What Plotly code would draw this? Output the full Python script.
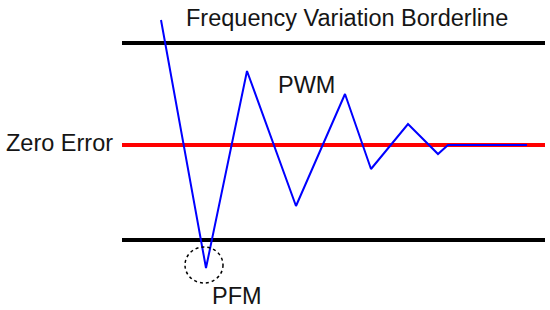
import plotly.graph_objects as go

# horizontal reference lines (error units, 0 = zero error)
border_x = [122, 545]
upper_border = 102
lower_border = -95
zero_error = 0

# control response trace
resp_x = [161, 206, 247, 296, 345, 371, 408, 438, 448, 527]
resp_y = [125, -123, 74, -61, 51, -24, 21, -9, 0, 0]

FONT = "Liberation Sans, Arial, sans-serif"

fig = go.Figure()

for yv in (upper_border, lower_border):
    fig.add_trace(go.Scatter(
        x=border_x, y=[yv, yv], mode="lines",
        line=dict(color="black", width=4), hoverinfo="skip",
    ))

fig.add_trace(go.Scatter(
    x=border_x, y=[zero_error, zero_error], mode="lines",
    line=dict(color="#ff0000", width=4), hoverinfo="skip",
))

fig.add_trace(go.Scatter(
    x=resp_x, y=resp_y, mode="lines",
    line=dict(color="#0000ff", width=2), hoverinfo="skip",
))

# dashed circle round the PFM dip
fig.add_shape(
    type="circle", xref="x", yref="y",
    x0=185, x1=223, y0=-138, y1=-102,
    line=dict(color="black", width=1.5, dash="dot"),
)

labels = [
    ("Frequency Variation Borderline", 347, 127),
    ("Zero Error", 59, 2),
    ("PWM", 306, 60),
    ("PFM", 237, -151),
]
for text, x, y in labels:
    fig.add_annotation(
        x=x, y=y, text=text, showarrow=False,
        font=dict(family=FONT, size=23.5, color="#151515"),
        xanchor="center", yanchor="middle",
    )

fig.update_layout(
    width=550, height=310,
    margin=dict(l=0, r=0, t=0, b=0),
    paper_bgcolor="white", plot_bgcolor="white",
    showlegend=False,
)
fig.update_xaxes(range=[0, 550], visible=False, fixedrange=True)
fig.update_yaxes(range=[-165, 145], visible=False, fixedrange=True)

fig.write_html(
    "out.html",
    config={"displayModeBar": False, "staticPlot": True},
    post_script="document.body.style.margin='0';document.body.style.overflow='hidden';",
)
